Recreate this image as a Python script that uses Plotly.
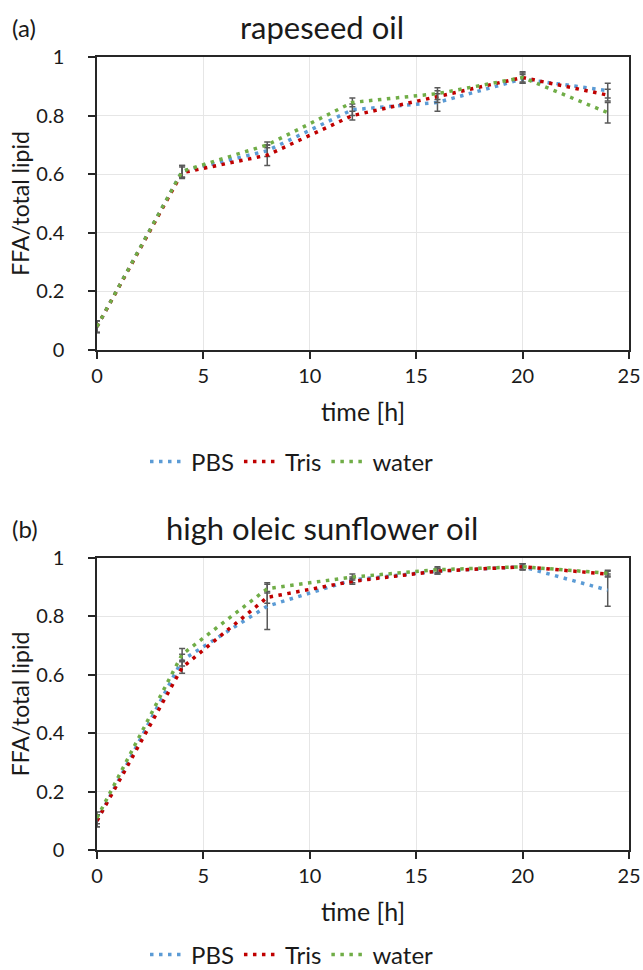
import plotly.graph_objects as go

time_h = [0, 4, 8, 12, 16, 20, 24]

# rapeseed oil
rape_pbs = [0.08, 0.61, 0.68, 0.82, 0.845, 0.925, 0.885]
rape_tris = [0.08, 0.605, 0.665, 0.80, 0.865, 0.93, 0.87]
rape_water = [0.08, 0.61, 0.70, 0.845, 0.875, 0.93, 0.81]
rape_pbs_err = [0.02, 0.02, 0.02, 0.02, 0.03, 0.015, 0.025]
rape_tris_err = [0.02, 0.02, 0.035, 0.015, 0.02, 0.015, 0.02]
rape_water_err = [0.02, 0.02, 0.01, 0.015, 0.02, 0.02, 0.035]

# high oleic sunflower oil
sun_pbs = [0.10, 0.65, 0.835, 0.925, 0.955, 0.97, 0.89]
sun_tris = [0.10, 0.625, 0.865, 0.92, 0.955, 0.97, 0.945]
sun_water = [0.11, 0.67, 0.895, 0.935, 0.96, 0.97, 0.948]
sun_pbs_err = [0.02, 0.02, 0.08, 0.01, 0.01, 0.01, 0.055]
sun_tris_err = [0.02, 0.02, 0.02, 0.01, 0.01, 0.01, 0.01]
sun_water_err = [0.02, 0.02, 0.015, 0.01, 0.01, 0.01, 0.01]

series_names = ["PBS", "Tris", "water"]
colors = ["#5B9BD5", "#C00000", "#70AD47"]
err_color = "#595959"
FONT = "Lato"
TXT = "#1a1a1a"

fig = go.Figure()

def add_series(vals, errs, xa, ya, legend):
    for name, v, e, c in zip(series_names, vals, errs, colors):
        fig.add_trace(go.Scatter(
            x=time_h, y=v, name=name, mode="lines",
            line=dict(color=c, width=3.5, dash="3.5px,5.5px"),
            error_y=dict(type="data", array=e, visible=True, color=err_color,
                         thickness=1.5, width=3),
            xaxis=xa, yaxis=ya, legend=legend,
        ))

add_series([rape_pbs, rape_tris, rape_water], [rape_pbs_err, rape_tris_err, rape_water_err], "x", "y", "legend")
add_series([sun_pbs, sun_tris, sun_water], [sun_pbs_err, sun_tris_err, sun_water_err], "x2", "y2", "legend2")

W, H = 643, 970

def px(x):
    return x / W

def py(y):
    return 1 - y / H

xdom = [px(97), px(629)]
top_dom = [py(350), py(57)]
bot_dom = [py(850), py(558)]

axis_common = dict(
    showgrid=True, gridcolor="#E6E6E6", gridwidth=1,
    showline=True, linecolor="#262626", linewidth=1.5, mirror=True,
    ticks="outside", ticklen=7, tickcolor="#262626", tickwidth=1.5,
    tickfont=dict(family=FONT, size=20, color=TXT),
    zeroline=False, automargin=False,
)

xaxis = dict(axis_common, range=[0, 25], dtick=5, domain=xdom, ticklabelstandoff=0,
             title=dict(text="time [h]", font=dict(family=FONT, size=25, color=TXT), standoff=18))
yaxis = dict(axis_common, range=[0, 1], dtick=0.2, tickformat="~g", ticklabelstandoff=20,
             title=dict(text="FFA/total lipid", font=dict(family=FONT, size=23, color=TXT), standoff=0))

legend_common = dict(orientation="h", xanchor="center", yanchor="middle",
                     font=dict(family=FONT, size=24, color=TXT), itemwidth=36,
                     bgcolor="rgba(0,0,0,0)")

fig.update_layout(
    width=W, height=H,
    margin=dict(l=0, r=0, t=0, b=0, autoexpand=False),
    paper_bgcolor="white", plot_bgcolor="white",
    font=dict(family=FONT, color=TXT),
    xaxis=dict(xaxis, anchor="y"),
    yaxis=dict(yaxis, domain=top_dom, anchor="x"),
    xaxis2=dict(xaxis, anchor="y2"),
    yaxis2=dict(yaxis, domain=bot_dom, anchor="x2"),
    legend=dict(legend_common, x=px(292), y=py(462)),
    legend2=dict(legend_common, x=px(292), y=py(955)),
    showlegend=True,
    annotations=[
        dict(text="(a)", x=px(10), y=py(27), xref="paper", yref="paper", xanchor="left", yanchor="middle",
             showarrow=False, font=dict(family=FONT, size=24, color=TXT)),
        dict(text="rapeseed oil", x=px(322), y=py(27), xref="paper", yref="paper", xanchor="center", yanchor="middle",
             showarrow=False, font=dict(family=FONT, size=31, color=TXT)),
        dict(text="(b)", x=px(10), y=py(528), xref="paper", yref="paper", xanchor="left", yanchor="middle",
             showarrow=False, font=dict(family=FONT, size=24, color=TXT)),
        dict(text="high oleic sunflower oil", x=px(322), y=py(528), xref="paper", yref="paper", xanchor="center", yanchor="middle",
             showarrow=False, font=dict(family=FONT, size=31, color=TXT)),
    ],
)

fig.write_html("out.html", config={"displayModeBar": False},
               post_script="document.body.style.margin='0';document.body.style.overflow='hidden';")
